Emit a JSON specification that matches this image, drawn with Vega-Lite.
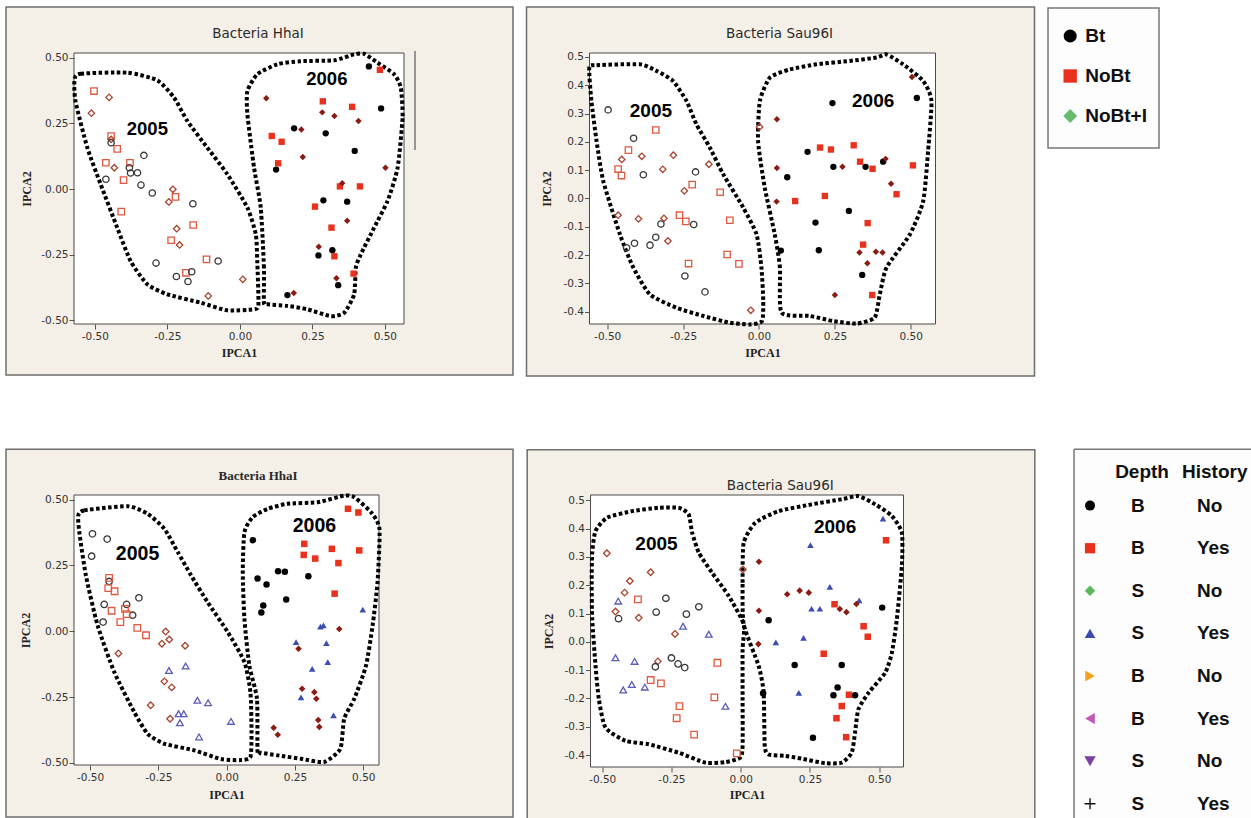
{
"$schema": "https://vega.github.io/schema/vega-lite/v6.json",
"usermeta": {"embedOptions": {"actions": false}},
"background": "white",
"padding": {"left": 5, "top": 6, "right": 0, "bottom": 0},
"config": {
  "view": {"stroke": null},
  "axis": {"domain": false, "grid": false, "ticks": true, "tickSize": 5, "tickColor": "#555", "tickWidth": 1, "labelFont": "DejaVu Sans", "labelFontSize": 10.5, "labelColor": "#333", "titleFont": "Liberation Serif", "titleFontSize": 12, "titleFontWeight": "bold", "titleColor": "#222", "zindex": 1, "labelFlush": false, "labelOverlap": false},
  "axisX": {"labelPadding": 2},
  "axisY": {"labelPadding": 1}
},
"datasets": {
"pts": [
{"p":1,"yr":2005,"t":"NoBt","x":-0.503,"y":0.373},{"p":1,"yr":2005,"t":"NoBt","x":-0.444,"y":0.202},{"p":1,"yr":2005,"t":"NoBt","x":-0.423,"y":0.153},{"p":1,"yr":2005,"t":"NoBt","x":-0.462,"y":0.100},{"p":1,"yr":2005,"t":"NoBt","x":-0.379,"y":0.100},{"p":1,"yr":2005,"t":"NoBt","x":-0.401,"y":0.034},{"p":1,"yr":2005,"t":"NoBt","x":-0.409,"y":-0.086},{"p":1,"yr":2005,"t":"NoBt","x":-0.222,"y":-0.030},{"p":1,"yr":2005,"t":"NoBt","x":-0.161,"y":-0.137},{"p":1,"yr":2005,"t":"NoBt","x":-0.237,"y":-0.195},{"p":1,"yr":2005,"t":"NoBt","x":-0.115,"y":-0.268},{"p":1,"yr":2005,"t":"NoBt","x":-0.186,"y":-0.319},
{"p":1,"yr":2005,"t":"NoBt+I","x":-0.512,"y":0.289},{"p":1,"yr":2005,"t":"NoBt+I","x":-0.451,"y":0.349},{"p":1,"yr":2005,"t":"NoBt+I","x":-0.444,"y":0.189},{"p":1,"yr":2005,"t":"NoBt+I","x":-0.433,"y":0.081},{"p":1,"yr":2005,"t":"NoBt+I","x":-0.231,"y":-0.001},{"p":1,"yr":2005,"t":"NoBt+I","x":-0.245,"y":-0.049},{"p":1,"yr":2005,"t":"NoBt+I","x":-0.218,"y":-0.151},{"p":1,"yr":2005,"t":"NoBt+I","x":-0.208,"y":-0.213},{"p":1,"yr":2005,"t":"NoBt+I","x":-0.109,"y":-0.407},{"p":1,"yr":2005,"t":"NoBt+I","x":0.010,"y":-0.344},
{"p":1,"yr":2005,"t":"Bt","x":-0.444,"y":0.176},{"p":1,"yr":2005,"t":"Bt","x":-0.381,"y":0.081},{"p":1,"yr":2005,"t":"Bt","x":-0.377,"y":0.061},{"p":1,"yr":2005,"t":"Bt","x":-0.353,"y":0.062},{"p":1,"yr":2005,"t":"Bt","x":-0.462,"y":0.037},{"p":1,"yr":2005,"t":"Bt","x":-0.331,"y":0.128},{"p":1,"yr":2005,"t":"Bt","x":-0.341,"y":0.015},{"p":1,"yr":2005,"t":"Bt","x":-0.302,"y":-0.015},{"p":1,"yr":2005,"t":"Bt","x":-0.162,"y":-0.056},{"p":1,"yr":2005,"t":"Bt","x":-0.289,"y":-0.282},{"p":1,"yr":2005,"t":"Bt","x":-0.219,"y":-0.333},{"p":1,"yr":2005,"t":"Bt","x":-0.166,"y":-0.315},{"p":1,"yr":2005,"t":"Bt","x":-0.179,"y":-0.352},{"p":1,"yr":2005,"t":"Bt","x":-0.075,"y":-0.274},
{"p":1,"yr":2006,"t":"Bt","x":0.445,"y":0.467},{"p":1,"yr":2006,"t":"Bt","x":0.487,"y":0.307},{"p":1,"yr":2006,"t":"Bt","x":0.187,"y":0.231},{"p":1,"yr":2006,"t":"Bt","x":0.296,"y":0.212},{"p":1,"yr":2006,"t":"Bt","x":0.396,"y":0.145},{"p":1,"yr":2006,"t":"Bt","x":0.125,"y":0.074},{"p":1,"yr":2006,"t":"Bt","x":0.288,"y":-0.043},{"p":1,"yr":2006,"t":"Bt","x":0.370,"y":-0.048},{"p":1,"yr":2006,"t":"Bt","x":0.271,"y":-0.253},{"p":1,"yr":2006,"t":"Bt","x":0.319,"y":-0.233},{"p":1,"yr":2006,"t":"Bt","x":0.164,"y":-0.404},{"p":1,"yr":2006,"t":"Bt","x":0.339,"y":-0.366},
{"p":1,"yr":2006,"t":"NoBt","x":0.483,"y":0.454},{"p":1,"yr":2006,"t":"NoBt","x":0.286,"y":0.334},{"p":1,"yr":2006,"t":"NoBt","x":0.387,"y":0.313},{"p":1,"yr":2006,"t":"NoBt","x":0.110,"y":0.202},{"p":1,"yr":2006,"t":"NoBt","x":0.144,"y":0.180},{"p":1,"yr":2006,"t":"NoBt","x":0.132,"y":0.098},{"p":1,"yr":2006,"t":"NoBt","x":0.414,"y":0.010},{"p":1,"yr":2006,"t":"NoBt","x":0.345,"y":0.010},{"p":1,"yr":2006,"t":"NoBt","x":0.259,"y":-0.067},{"p":1,"yr":2006,"t":"NoBt","x":0.316,"y":-0.147},{"p":1,"yr":2006,"t":"NoBt","x":0.326,"y":-0.256},{"p":1,"yr":2006,"t":"NoBt","x":0.392,"y":-0.322},
{"p":1,"yr":2006,"t":"NoBt+I","x":0.091,"y":0.346},{"p":1,"yr":2006,"t":"NoBt+I","x":0.284,"y":0.292},{"p":1,"yr":2006,"t":"NoBt+I","x":0.326,"y":0.278},{"p":1,"yr":2006,"t":"NoBt+I","x":0.409,"y":0.259},{"p":1,"yr":2006,"t":"NoBt+I","x":0.212,"y":0.227},{"p":1,"yr":2006,"t":"NoBt+I","x":0.217,"y":0.122},{"p":1,"yr":2006,"t":"NoBt+I","x":0.502,"y":0.081},{"p":1,"yr":2006,"t":"NoBt+I","x":0.353,"y":0.022},{"p":1,"yr":2006,"t":"NoBt+I","x":0.370,"y":-0.121},{"p":1,"yr":2006,"t":"NoBt+I","x":0.272,"y":-0.220},{"p":1,"yr":2006,"t":"NoBt+I","x":0.333,"y":-0.340},{"p":1,"yr":2006,"t":"NoBt+I","x":0.186,"y":-0.396},
{"p":2,"yr":2005,"t":"Bt","x":-0.497,"y":0.313},{"p":2,"yr":2005,"t":"Bt","x":-0.413,"y":0.213},{"p":2,"yr":2005,"t":"Bt","x":-0.381,"y":0.084},{"p":2,"yr":2005,"t":"Bt","x":-0.209,"y":0.094},{"p":2,"yr":2005,"t":"Bt","x":-0.215,"y":-0.092},{"p":2,"yr":2005,"t":"Bt","x":-0.323,"y":-0.090},{"p":2,"yr":2005,"t":"Bt","x":-0.340,"y":-0.137},{"p":2,"yr":2005,"t":"Bt","x":-0.410,"y":-0.158},{"p":2,"yr":2005,"t":"Bt","x":-0.359,"y":-0.165},{"p":2,"yr":2005,"t":"Bt","x":-0.436,"y":-0.174},{"p":2,"yr":2005,"t":"Bt","x":-0.244,"y":-0.274},{"p":2,"yr":2005,"t":"Bt","x":-0.178,"y":-0.330},
{"p":2,"yr":2005,"t":"NoBt","x":-0.340,"y":0.242},{"p":2,"yr":2005,"t":"NoBt","x":-0.430,"y":0.171},{"p":2,"yr":2005,"t":"NoBt","x":-0.464,"y":0.104},{"p":2,"yr":2005,"t":"NoBt","x":-0.453,"y":0.081},{"p":2,"yr":2005,"t":"NoBt","x":-0.220,"y":0.049},{"p":2,"yr":2005,"t":"NoBt","x":-0.128,"y":0.022},{"p":2,"yr":2005,"t":"NoBt","x":-0.262,"y":-0.059},{"p":2,"yr":2005,"t":"NoBt","x":-0.241,"y":-0.081},{"p":2,"yr":2005,"t":"NoBt","x":-0.096,"y":-0.077},{"p":2,"yr":2005,"t":"NoBt","x":-0.105,"y":-0.198},{"p":2,"yr":2005,"t":"NoBt","x":-0.066,"y":-0.231},{"p":2,"yr":2005,"t":"NoBt","x":-0.232,"y":-0.230},
{"p":2,"yr":2005,"t":"NoBt+I","x":-0.452,"y":0.138},{"p":2,"yr":2005,"t":"NoBt+I","x":-0.386,"y":0.149},{"p":2,"yr":2005,"t":"NoBt+I","x":-0.282,"y":0.153},{"p":2,"yr":2005,"t":"NoBt+I","x":-0.317,"y":0.103},{"p":2,"yr":2005,"t":"NoBt+I","x":-0.165,"y":0.121},{"p":2,"yr":2005,"t":"NoBt+I","x":-0.246,"y":0.027},{"p":2,"yr":2005,"t":"NoBt+I","x":-0.464,"y":-0.059},{"p":2,"yr":2005,"t":"NoBt+I","x":-0.397,"y":-0.072},{"p":2,"yr":2005,"t":"NoBt+I","x":-0.313,"y":-0.070},{"p":2,"yr":2005,"t":"NoBt+I","x":-0.300,"y":-0.150},{"p":2,"yr":2005,"t":"NoBt+I","x":-0.027,"y":-0.395},{"p":2,"yr":2005,"t":"NoBt+I","x":0.002,"y":0.253},
{"p":2,"yr":2006,"t":"Bt","x":0.242,"y":0.337},{"p":2,"yr":2006,"t":"Bt","x":0.520,"y":0.355},{"p":2,"yr":2006,"t":"Bt","x":0.160,"y":0.165},{"p":2,"yr":2006,"t":"Bt","x":0.245,"y":0.112},{"p":2,"yr":2006,"t":"Bt","x":0.093,"y":0.075},{"p":2,"yr":2006,"t":"Bt","x":0.351,"y":0.112},{"p":2,"yr":2006,"t":"Bt","x":0.409,"y":0.130},{"p":2,"yr":2006,"t":"Bt","x":0.296,"y":-0.044},{"p":2,"yr":2006,"t":"Bt","x":0.186,"y":-0.085},{"p":2,"yr":2006,"t":"Bt","x":0.072,"y":-0.184},{"p":2,"yr":2006,"t":"Bt","x":0.197,"y":-0.183},{"p":2,"yr":2006,"t":"Bt","x":0.340,"y":-0.270},
{"p":2,"yr":2006,"t":"NoBt","x":0.201,"y":0.180},{"p":2,"yr":2006,"t":"NoBt","x":0.237,"y":0.173},{"p":2,"yr":2006,"t":"NoBt","x":0.312,"y":0.188},{"p":2,"yr":2006,"t":"NoBt","x":0.333,"y":0.130},{"p":2,"yr":2006,"t":"NoBt","x":0.374,"y":0.105},{"p":2,"yr":2006,"t":"NoBt","x":0.507,"y":0.117},{"p":2,"yr":2006,"t":"NoBt","x":0.453,"y":0.015},{"p":2,"yr":2006,"t":"NoBt","x":0.119,"y":-0.009},{"p":2,"yr":2006,"t":"NoBt","x":0.217,"y":0.009},{"p":2,"yr":2006,"t":"NoBt","x":0.358,"y":-0.087},{"p":2,"yr":2006,"t":"NoBt","x":0.343,"y":-0.163},{"p":2,"yr":2006,"t":"NoBt","x":0.373,"y":-0.341},
{"p":2,"yr":2006,"t":"NoBt+I","x":0.504,"y":0.429},{"p":2,"yr":2006,"t":"NoBt+I","x":0.059,"y":0.280},{"p":2,"yr":2006,"t":"NoBt+I","x":0.059,"y":0.108},{"p":2,"yr":2006,"t":"NoBt+I","x":0.275,"y":0.112},{"p":2,"yr":2006,"t":"NoBt+I","x":0.417,"y":0.140},{"p":2,"yr":2006,"t":"NoBt+I","x":0.435,"y":0.052},{"p":2,"yr":2006,"t":"NoBt+I","x":0.058,"y":-0.011},{"p":2,"yr":2006,"t":"NoBt+I","x":0.331,"y":-0.191},{"p":2,"yr":2006,"t":"NoBt+I","x":0.385,"y":-0.188},{"p":2,"yr":2006,"t":"NoBt+I","x":0.407,"y":-0.191},{"p":2,"yr":2006,"t":"NoBt+I","x":0.357,"y":-0.229},{"p":2,"yr":2006,"t":"NoBt+I","x":0.250,"y":-0.341},
{"p":3,"yr":2005,"t":"B-No","x":-0.491,"y":0.370},{"p":3,"yr":2005,"t":"B-No","x":-0.437,"y":0.350},{"p":3,"yr":2005,"t":"B-No","x":-0.494,"y":0.285},{"p":3,"yr":2005,"t":"B-No","x":-0.430,"y":0.189},{"p":3,"yr":2005,"t":"B-No","x":-0.448,"y":0.102},{"p":3,"yr":2005,"t":"B-No","x":-0.366,"y":0.102},{"p":3,"yr":2005,"t":"B-No","x":-0.344,"y":0.061},{"p":3,"yr":2005,"t":"B-No","x":-0.321,"y":0.127},{"p":3,"yr":2005,"t":"B-No","x":-0.452,"y":0.035},
{"p":3,"yr":2005,"t":"B-Yes","x":-0.430,"y":0.203},{"p":3,"yr":2005,"t":"B-Yes","x":-0.433,"y":0.164},{"p":3,"yr":2005,"t":"B-Yes","x":-0.410,"y":0.152},{"p":3,"yr":2005,"t":"B-Yes","x":-0.421,"y":0.078},{"p":3,"yr":2005,"t":"B-Yes","x":-0.372,"y":0.085},{"p":3,"yr":2005,"t":"B-Yes","x":-0.366,"y":0.065},{"p":3,"yr":2005,"t":"B-Yes","x":-0.389,"y":0.035},{"p":3,"yr":2005,"t":"B-Yes","x":-0.327,"y":0.013},{"p":3,"yr":2005,"t":"B-Yes","x":-0.295,"y":-0.015},
{"p":3,"yr":2005,"t":"S-No","x":-0.396,"y":-0.084},{"p":3,"yr":2005,"t":"S-No","x":-0.223,"y":-0.001},{"p":3,"yr":2005,"t":"S-No","x":-0.237,"y":-0.047},{"p":3,"yr":2005,"t":"S-No","x":-0.210,"y":-0.031},{"p":3,"yr":2005,"t":"S-No","x":-0.152,"y":-0.055},{"p":3,"yr":2005,"t":"S-No","x":-0.228,"y":-0.190},{"p":3,"yr":2005,"t":"S-No","x":-0.201,"y":-0.213},{"p":3,"yr":2005,"t":"S-No","x":-0.278,"y":-0.281},{"p":3,"yr":2005,"t":"S-No","x":-0.207,"y":-0.332},
{"p":3,"yr":2005,"t":"S-Yes","x":-0.211,"y":-0.149},{"p":3,"yr":2005,"t":"S-Yes","x":-0.150,"y":-0.132},{"p":3,"yr":2005,"t":"S-Yes","x":-0.107,"y":-0.262},{"p":3,"yr":2005,"t":"S-Yes","x":-0.068,"y":-0.271},{"p":3,"yr":2005,"t":"S-Yes","x":-0.176,"y":-0.313},{"p":3,"yr":2005,"t":"S-Yes","x":-0.157,"y":-0.313},{"p":3,"yr":2005,"t":"S-Yes","x":-0.171,"y":-0.347},{"p":3,"yr":2005,"t":"S-Yes","x":-0.101,"y":-0.401},{"p":3,"yr":2005,"t":"S-Yes","x":0.016,"y":-0.342},
{"p":3,"yr":2006,"t":"B-No","x":0.096,"y":0.346},{"p":3,"yr":2006,"t":"B-No","x":0.113,"y":0.200},{"p":3,"yr":2006,"t":"B-No","x":0.146,"y":0.178},{"p":3,"yr":2006,"t":"B-No","x":0.134,"y":0.098},{"p":3,"yr":2006,"t":"B-No","x":0.127,"y":0.071},{"p":3,"yr":2006,"t":"B-No","x":0.188,"y":0.228},{"p":3,"yr":2006,"t":"B-No","x":0.213,"y":0.226},{"p":3,"yr":2006,"t":"B-No","x":0.218,"y":0.121},{"p":3,"yr":2006,"t":"B-No","x":0.299,"y":0.209},
{"p":3,"yr":2006,"t":"B-Yes","x":0.444,"y":0.465},{"p":3,"yr":2006,"t":"B-Yes","x":0.482,"y":0.451},{"p":3,"yr":2006,"t":"B-Yes","x":0.284,"y":0.332},{"p":3,"yr":2006,"t":"B-Yes","x":0.282,"y":0.290},{"p":3,"yr":2006,"t":"B-Yes","x":0.324,"y":0.276},{"p":3,"yr":2006,"t":"B-Yes","x":0.385,"y":0.313},{"p":3,"yr":2006,"t":"B-Yes","x":0.409,"y":0.259},{"p":3,"yr":2006,"t":"B-Yes","x":0.485,"y":0.307},{"p":3,"yr":2006,"t":"B-Yes","x":0.395,"y":0.143},
{"p":3,"yr":2006,"t":"S-Yes","x":0.498,"y":0.082},{"p":3,"yr":2006,"t":"S-Yes","x":0.343,"y":0.018},{"p":3,"yr":2006,"t":"S-Yes","x":0.354,"y":0.022},{"p":3,"yr":2006,"t":"S-Yes","x":0.254,"y":-0.041},{"p":3,"yr":2006,"t":"S-Yes","x":0.365,"y":-0.045},{"p":3,"yr":2006,"t":"S-Yes","x":0.370,"y":-0.117},{"p":3,"yr":2006,"t":"S-Yes","x":0.313,"y":-0.143},{"p":3,"yr":2006,"t":"S-Yes","x":0.272,"y":-0.251},{"p":3,"yr":2006,"t":"S-Yes","x":0.391,"y":-0.319},
{"p":3,"yr":2006,"t":"S-No","x":0.412,"y":0.009},{"p":3,"yr":2006,"t":"S-No","x":0.263,"y":-0.066},{"p":3,"yr":2006,"t":"S-No","x":0.276,"y":-0.218},{"p":3,"yr":2006,"t":"S-No","x":0.321,"y":-0.231},{"p":3,"yr":2006,"t":"S-No","x":0.328,"y":-0.256},{"p":3,"yr":2006,"t":"S-No","x":0.335,"y":-0.337},{"p":3,"yr":2006,"t":"S-No","x":0.339,"y":-0.363},{"p":3,"yr":2006,"t":"S-No","x":0.172,"y":-0.366},{"p":3,"yr":2006,"t":"S-No","x":0.187,"y":-0.393},
{"p":4,"yr":2005,"t":"S-No","x":-0.483,"y":0.313},{"p":4,"yr":2005,"t":"S-No","x":-0.400,"y":0.215},{"p":4,"yr":2005,"t":"S-No","x":-0.419,"y":0.174},{"p":4,"yr":2005,"t":"S-No","x":-0.325,"y":0.246},{"p":4,"yr":2005,"t":"S-No","x":-0.452,"y":0.107},{"p":4,"yr":2005,"t":"S-No","x":-0.368,"y":0.085},{"p":4,"yr":2005,"t":"S-No","x":-0.237,"y":0.028},{"p":4,"yr":2005,"t":"S-No","x":-0.299,"y":-0.069},{"p":4,"yr":2005,"t":"S-No","x":0.008,"y":0.256},
{"p":4,"yr":2005,"t":"B-No","x":-0.441,"y":0.082},{"p":4,"yr":2005,"t":"B-No","x":-0.270,"y":0.154},{"p":4,"yr":2005,"t":"B-No","x":-0.305,"y":0.105},{"p":4,"yr":2005,"t":"B-No","x":-0.196,"y":0.098},{"p":4,"yr":2005,"t":"B-No","x":-0.151,"y":0.124},{"p":4,"yr":2005,"t":"B-No","x":-0.250,"y":-0.057},{"p":4,"yr":2005,"t":"B-No","x":-0.226,"y":-0.078},{"p":4,"yr":2005,"t":"B-No","x":-0.202,"y":-0.091},{"p":4,"yr":2005,"t":"B-No","x":-0.308,"y":-0.088},
{"p":4,"yr":2005,"t":"S-Yes","x":-0.442,"y":0.144},{"p":4,"yr":2005,"t":"S-Yes","x":-0.208,"y":0.055},{"p":4,"yr":2005,"t":"S-Yes","x":-0.115,"y":0.027},{"p":4,"yr":2005,"t":"S-Yes","x":-0.452,"y":-0.056},{"p":4,"yr":2005,"t":"S-Yes","x":-0.383,"y":-0.069},{"p":4,"yr":2005,"t":"S-Yes","x":-0.424,"y":-0.170},{"p":4,"yr":2005,"t":"S-Yes","x":-0.393,"y":-0.151},{"p":4,"yr":2005,"t":"S-Yes","x":-0.346,"y":-0.160},{"p":4,"yr":2005,"t":"S-Yes","x":-0.055,"y":-0.228},
{"p":4,"yr":2005,"t":"B-Yes","x":-0.371,"y":0.150},{"p":4,"yr":2005,"t":"B-Yes","x":-0.084,"y":-0.074},{"p":4,"yr":2005,"t":"B-Yes","x":-0.325,"y":-0.135},{"p":4,"yr":2005,"t":"B-Yes","x":-0.288,"y":-0.147},{"p":4,"yr":2005,"t":"B-Yes","x":-0.221,"y":-0.227},{"p":4,"yr":2005,"t":"B-Yes","x":-0.231,"y":-0.270},{"p":4,"yr":2005,"t":"B-Yes","x":-0.095,"y":-0.196},{"p":4,"yr":2005,"t":"B-Yes","x":-0.168,"y":-0.328},{"p":4,"yr":2005,"t":"B-Yes","x":-0.014,"y":-0.394},
{"p":4,"yr":2006,"t":"S-Yes","x":0.514,"y":0.436},{"p":4,"yr":2006,"t":"S-Yes","x":0.252,"y":0.342},{"p":4,"yr":2006,"t":"S-Yes","x":0.322,"y":0.194},{"p":4,"yr":2006,"t":"S-Yes","x":0.256,"y":0.117},{"p":4,"yr":2006,"t":"S-Yes","x":0.286,"y":0.117},{"p":4,"yr":2006,"t":"S-Yes","x":0.428,"y":0.147},{"p":4,"yr":2006,"t":"S-Yes","x":0.127,"y":-0.002},{"p":4,"yr":2006,"t":"S-Yes","x":0.227,"y":0.014},{"p":4,"yr":2006,"t":"S-Yes","x":0.210,"y":-0.180},
{"p":4,"yr":2006,"t":"S-No","x":0.066,"y":0.283},{"p":4,"yr":2006,"t":"S-No","x":0.066,"y":0.110},{"p":4,"yr":2006,"t":"S-No","x":0.064,"y":-0.008},{"p":4,"yr":2006,"t":"S-No","x":0.168,"y":0.168},{"p":4,"yr":2006,"t":"S-No","x":0.213,"y":0.181},{"p":4,"yr":2006,"t":"S-No","x":0.246,"y":0.174},{"p":4,"yr":2006,"t":"S-No","x":0.358,"y":0.116},{"p":4,"yr":2006,"t":"S-No","x":0.382,"y":0.105},{"p":4,"yr":2006,"t":"S-No","x":0.418,"y":0.134},
{"p":4,"yr":2006,"t":"B-No","x":0.101,"y":0.076},{"p":4,"yr":2006,"t":"B-No","x":0.511,"y":0.121},{"p":4,"yr":2006,"t":"B-No","x":0.195,"y":-0.082},{"p":4,"yr":2006,"t":"B-No","x":0.365,"y":-0.082},{"p":4,"yr":2006,"t":"B-No","x":0.081,"y":-0.182},{"p":4,"yr":2006,"t":"B-No","x":0.350,"y":-0.161},{"p":4,"yr":2006,"t":"B-No","x":0.335,"y":-0.189},{"p":4,"yr":2006,"t":"B-No","x":0.413,"y":-0.189},{"p":4,"yr":2006,"t":"B-No","x":0.261,"y":-0.339},
{"p":4,"yr":2006,"t":"B-Yes","x":0.525,"y":0.359},{"p":4,"yr":2006,"t":"B-Yes","x":0.339,"y":0.133},{"p":4,"yr":2006,"t":"B-Yes","x":0.444,"y":0.055},{"p":4,"yr":2006,"t":"B-Yes","x":0.459,"y":0.018},{"p":4,"yr":2006,"t":"B-Yes","x":0.300,"y":-0.042},{"p":4,"yr":2006,"t":"B-Yes","x":0.391,"y":-0.187},{"p":4,"yr":2006,"t":"B-Yes","x":0.365,"y":-0.227},{"p":4,"yr":2006,"t":"B-Yes","x":0.346,"y":-0.270},{"p":4,"yr":2006,"t":"B-Yes","x":0.381,"y":-0.337}
],
"ol": [
{"p":1,"g":"a","i":1,"x":-0.570,"y":0.418},{"p":1,"g":"a","i":2,"x":-0.549,"y":0.439},{"p":1,"g":"a","i":3,"x":-0.388,"y":0.443},{"p":1,"g":"a","i":4,"x":-0.285,"y":0.414},{"p":1,"g":"a","i":5,"x":-0.227,"y":0.348},{"p":1,"g":"a","i":6,"x":-0.181,"y":0.259},{"p":1,"g":"a","i":7,"x":-0.112,"y":0.157},{"p":1,"g":"a","i":8,"x":-0.043,"y":0.056},{"p":1,"g":"a","i":9,"x":0.026,"y":-0.071},{"p":1,"g":"a","i":10,"x":0.055,"y":-0.173},{"p":1,"g":"a","i":11,"x":0.060,"y":-0.274},{"p":1,"g":"a","i":12,"x":0.064,"y":-0.439},{"p":1,"g":"a","i":13,"x":0.049,"y":-0.458},{"p":1,"g":"a","i":14,"x":-0.043,"y":-0.462},{"p":1,"g":"a","i":15,"x":-0.135,"y":-0.433},{"p":1,"g":"a","i":16,"x":-0.250,"y":-0.401},{"p":1,"g":"a","i":17,"x":-0.319,"y":-0.363},{"p":1,"g":"a","i":18,"x":-0.377,"y":-0.274},{"p":1,"g":"a","i":19,"x":-0.423,"y":-0.147},{"p":1,"g":"a","i":20,"x":-0.480,"y":0.018},{"p":1,"g":"a","i":21,"x":-0.526,"y":0.157},{"p":1,"g":"a","i":22,"x":-0.567,"y":0.335},
{"p":1,"g":"b","i":1,"x":0.083,"y":-0.433},{"p":1,"g":"b","i":2,"x":0.083,"y":-0.299},{"p":1,"g":"b","i":3,"x":0.072,"y":-0.071},{"p":1,"g":"b","i":4,"x":0.049,"y":0.081},{"p":1,"g":"b","i":5,"x":0.026,"y":0.284},{"p":1,"g":"b","i":6,"x":0.026,"y":0.373},{"p":1,"g":"b","i":7,"x":0.060,"y":0.437},{"p":1,"g":"b","i":8,"x":0.129,"y":0.475},{"p":1,"g":"b","i":9,"x":0.210,"y":0.487},{"p":1,"g":"b","i":10,"x":0.325,"y":0.490},{"p":1,"g":"b","i":11,"x":0.394,"y":0.513},{"p":1,"g":"b","i":12,"x":0.429,"y":0.515},{"p":1,"g":"b","i":13,"x":0.475,"y":0.481},{"p":1,"g":"b","i":14,"x":0.532,"y":0.437},{"p":1,"g":"b","i":15,"x":0.555,"y":0.386},{"p":1,"g":"b","i":16,"x":0.561,"y":0.272},{"p":1,"g":"b","i":17,"x":0.544,"y":0.081},{"p":1,"g":"b","i":18,"x":0.509,"y":-0.046},{"p":1,"g":"b","i":19,"x":0.463,"y":-0.147},{"p":1,"g":"b","i":20,"x":0.417,"y":-0.249},{"p":1,"g":"b","i":21,"x":0.400,"y":-0.299},{"p":1,"g":"b","i":22,"x":0.394,"y":-0.401},{"p":1,"g":"b","i":23,"x":0.360,"y":-0.471},{"p":1,"g":"b","i":24,"x":0.314,"y":-0.484},{"p":1,"g":"b","i":25,"x":0.233,"y":-0.458},{"p":1,"g":"b","i":26,"x":0.164,"y":-0.445},{"p":1,"g":"b","i":27,"x":0.095,"y":-0.439},
{"p":2,"g":"a","i":1,"x":-0.559,"y":0.462},{"p":2,"g":"a","i":2,"x":-0.535,"y":0.471},{"p":2,"g":"a","i":3,"x":-0.392,"y":0.474},{"p":2,"g":"a","i":4,"x":-0.338,"y":0.451},{"p":2,"g":"a","i":5,"x":-0.283,"y":0.415},{"p":2,"g":"a","i":6,"x":-0.239,"y":0.345},{"p":2,"g":"a","i":7,"x":-0.206,"y":0.262},{"p":2,"g":"a","i":8,"x":-0.162,"y":0.180},{"p":2,"g":"a","i":9,"x":-0.118,"y":0.086},{"p":2,"g":"a","i":10,"x":-0.052,"y":-0.032},{"p":2,"g":"a","i":11,"x":-0.008,"y":-0.127},{"p":2,"g":"a","i":12,"x":0.008,"y":-0.244},{"p":2,"g":"a","i":13,"x":0.014,"y":-0.362},{"p":2,"g":"a","i":14,"x":0.010,"y":-0.433},{"p":2,"g":"a","i":15,"x":-0.030,"y":-0.445},{"p":2,"g":"a","i":16,"x":-0.096,"y":-0.439},{"p":2,"g":"a","i":17,"x":-0.184,"y":-0.415},{"p":2,"g":"a","i":18,"x":-0.272,"y":-0.386},{"p":2,"g":"a","i":19,"x":-0.359,"y":-0.339},{"p":2,"g":"a","i":20,"x":-0.414,"y":-0.244},{"p":2,"g":"a","i":21,"x":-0.458,"y":-0.127},{"p":2,"g":"a","i":22,"x":-0.513,"y":0.062},{"p":2,"g":"a","i":23,"x":-0.535,"y":0.203},{"p":2,"g":"a","i":24,"x":-0.552,"y":0.345},
{"p":2,"g":"b","i":1,"x":0.074,"y":-0.403},{"p":2,"g":"b","i":2,"x":0.069,"y":-0.244},{"p":2,"g":"b","i":3,"x":0.052,"y":-0.127},{"p":2,"g":"b","i":4,"x":0.019,"y":0.038},{"p":2,"g":"b","i":5,"x":-0.003,"y":0.203},{"p":2,"g":"b","i":6,"x":0.003,"y":0.345},{"p":2,"g":"b","i":7,"x":0.036,"y":0.427},{"p":2,"g":"b","i":8,"x":0.102,"y":0.456},{"p":2,"g":"b","i":9,"x":0.189,"y":0.474},{"p":2,"g":"b","i":10,"x":0.299,"y":0.486},{"p":2,"g":"b","i":11,"x":0.387,"y":0.498},{"p":2,"g":"b","i":12,"x":0.420,"y":0.509},{"p":2,"g":"b","i":13,"x":0.475,"y":0.474},{"p":2,"g":"b","i":14,"x":0.541,"y":0.415},{"p":2,"g":"b","i":15,"x":0.568,"y":0.345},{"p":2,"g":"b","i":16,"x":0.557,"y":0.168},{"p":2,"g":"b","i":17,"x":0.541,"y":-0.009},{"p":2,"g":"b","i":18,"x":0.497,"y":-0.127},{"p":2,"g":"b","i":19,"x":0.420,"y":-0.244},{"p":2,"g":"b","i":20,"x":0.398,"y":-0.339},{"p":2,"g":"b","i":21,"x":0.381,"y":-0.421},{"p":2,"g":"b","i":22,"x":0.321,"y":-0.442},{"p":2,"g":"b","i":23,"x":0.244,"y":-0.433},{"p":2,"g":"b","i":24,"x":0.167,"y":-0.415},
{"p":3,"g":"a","i":1,"x":-0.543,"y":0.439},{"p":3,"g":"a","i":2,"x":-0.521,"y":0.459},{"p":3,"g":"a","i":3,"x":-0.362,"y":0.475},{"p":3,"g":"a","i":4,"x":-0.289,"y":0.446},{"p":3,"g":"a","i":5,"x":-0.228,"y":0.389},{"p":3,"g":"a","i":6,"x":-0.179,"y":0.301},{"p":3,"g":"a","i":7,"x":-0.130,"y":0.212},{"p":3,"g":"a","i":8,"x":-0.070,"y":0.111},{"p":3,"g":"a","i":9,"x":0.004,"y":-0.003},{"p":3,"g":"a","i":10,"x":0.065,"y":-0.117},{"p":3,"g":"a","i":11,"x":0.087,"y":-0.231},{"p":3,"g":"a","i":12,"x":0.091,"y":-0.382},{"p":3,"g":"a","i":13,"x":0.087,"y":-0.477},{"p":3,"g":"a","i":14,"x":0.052,"y":-0.489},{"p":3,"g":"a","i":15,"x":-0.021,"y":-0.485},{"p":3,"g":"a","i":16,"x":-0.118,"y":-0.452},{"p":3,"g":"a","i":17,"x":-0.228,"y":-0.427},{"p":3,"g":"a","i":18,"x":-0.289,"y":-0.389},{"p":3,"g":"a","i":19,"x":-0.338,"y":-0.307},{"p":3,"g":"a","i":20,"x":-0.411,"y":-0.155},{"p":3,"g":"a","i":21,"x":-0.472,"y":0.022},{"p":3,"g":"a","i":22,"x":-0.515,"y":0.212},{"p":3,"g":"a","i":23,"x":-0.539,"y":0.376},
{"p":3,"g":"b","i":1,"x":0.113,"y":-0.458},{"p":3,"g":"b","i":2,"x":0.111,"y":-0.256},{"p":3,"g":"b","i":3,"x":0.083,"y":-0.130},{"p":3,"g":"b","i":4,"x":0.065,"y":0.047},{"p":3,"g":"b","i":5,"x":0.059,"y":0.224},{"p":3,"g":"b","i":6,"x":0.065,"y":0.376},{"p":3,"g":"b","i":7,"x":0.095,"y":0.433},{"p":3,"g":"b","i":8,"x":0.150,"y":0.465},{"p":3,"g":"b","i":9,"x":0.223,"y":0.484},{"p":3,"g":"b","i":10,"x":0.333,"y":0.490},{"p":3,"g":"b","i":11,"x":0.430,"y":0.515},{"p":3,"g":"b","i":12,"x":0.467,"y":0.509},{"p":3,"g":"b","i":13,"x":0.528,"y":0.452},{"p":3,"g":"b","i":14,"x":0.559,"y":0.389},{"p":3,"g":"b","i":15,"x":0.552,"y":0.186},{"p":3,"g":"b","i":16,"x":0.534,"y":0.022},{"p":3,"g":"b","i":17,"x":0.510,"y":-0.130},{"p":3,"g":"b","i":18,"x":0.467,"y":-0.256},{"p":3,"g":"b","i":19,"x":0.430,"y":-0.332},{"p":3,"g":"b","i":20,"x":0.416,"y":-0.446},{"p":3,"g":"b","i":21,"x":0.357,"y":-0.496},{"p":3,"g":"b","i":22,"x":0.272,"y":-0.484},{"p":3,"g":"b","i":23,"x":0.187,"y":-0.471},{"p":3,"g":"b","i":24,"x":0.126,"y":-0.461},
{"p":4,"g":"a","i":1,"x":-0.536,"y":0.315},{"p":4,"g":"a","i":2,"x":-0.524,"y":0.392},{"p":4,"g":"a","i":3,"x":-0.482,"y":0.439},{"p":4,"g":"a","i":4,"x":-0.392,"y":0.462},{"p":4,"g":"a","i":5,"x":-0.296,"y":0.474},{"p":4,"g":"a","i":6,"x":-0.224,"y":0.474},{"p":4,"g":"a","i":7,"x":-0.188,"y":0.451},{"p":4,"g":"a","i":8,"x":-0.175,"y":0.386},{"p":4,"g":"a","i":9,"x":-0.151,"y":0.315},{"p":4,"g":"a","i":10,"x":-0.103,"y":0.244},{"p":4,"g":"a","i":11,"x":-0.043,"y":0.162},{"p":4,"g":"a","i":12,"x":0.011,"y":0.062},{"p":4,"g":"a","i":13,"x":0.007,"y":-0.027},{"p":4,"g":"a","i":14,"x":0.007,"y":-0.203},{"p":4,"g":"a","i":15,"x":0.007,"y":-0.368},{"p":4,"g":"a","i":16,"x":-0.001,"y":-0.409},{"p":4,"g":"a","i":17,"x":-0.055,"y":-0.425},{"p":4,"g":"a","i":18,"x":-0.127,"y":-0.427},{"p":4,"g":"a","i":19,"x":-0.224,"y":-0.392},{"p":4,"g":"a","i":20,"x":-0.332,"y":-0.362},{"p":4,"g":"a","i":21,"x":-0.416,"y":-0.350},{"p":4,"g":"a","i":22,"x":-0.488,"y":-0.303},{"p":4,"g":"a","i":23,"x":-0.512,"y":-0.203},{"p":4,"g":"a","i":24,"x":-0.524,"y":-0.085},{"p":4,"g":"a","i":25,"x":-0.536,"y":0.080},{"p":4,"g":"a","i":26,"x":-0.538,"y":0.209},
{"p":4,"g":"b","i":1,"x":0.011,"y":0.062},{"p":4,"g":"b","i":2,"x":0.007,"y":0.209},{"p":4,"g":"b","i":3,"x":0.011,"y":0.350},{"p":4,"g":"b","i":4,"x":0.053,"y":0.421},{"p":4,"g":"b","i":5,"x":0.137,"y":0.462},{"p":4,"g":"b","i":6,"x":0.257,"y":0.486},{"p":4,"g":"b","i":7,"x":0.365,"y":0.504},{"p":4,"g":"b","i":8,"x":0.425,"y":0.515},{"p":4,"g":"b","i":9,"x":0.486,"y":0.486},{"p":4,"g":"b","i":10,"x":0.546,"y":0.445},{"p":4,"g":"b","i":11,"x":0.582,"y":0.386},{"p":4,"g":"b","i":12,"x":0.582,"y":0.268},{"p":4,"g":"b","i":13,"x":0.564,"y":0.080},{"p":4,"g":"b","i":14,"x":0.546,"y":-0.038},{"p":4,"g":"b","i":15,"x":0.522,"y":-0.109},{"p":4,"g":"b","i":16,"x":0.462,"y":-0.180},{"p":4,"g":"b","i":17,"x":0.425,"y":-0.239},{"p":4,"g":"b","i":18,"x":0.413,"y":-0.321},{"p":4,"g":"b","i":19,"x":0.401,"y":-0.392},{"p":4,"g":"b","i":20,"x":0.365,"y":-0.427},{"p":4,"g":"b","i":21,"x":0.305,"y":-0.429},{"p":4,"g":"b","i":22,"x":0.221,"y":-0.413},{"p":4,"g":"b","i":23,"x":0.161,"y":-0.403},{"p":4,"g":"b","i":24,"x":0.101,"y":-0.398},{"p":4,"g":"b","i":25,"x":0.087,"y":-0.368},{"p":4,"g":"b","i":26,"x":0.083,"y":-0.180},{"p":4,"g":"b","i":27,"x":0.065,"y":-0.085}
],
"lb": [
{"p":1,"s":"2005","x":-0.319,"y":0.227},{"p":1,"s":"2006","x":0.300,"y":0.418},
{"p":2,"s":"2005","x":-0.356,"y":0.309},{"p":2,"s":"2006","x":0.376,"y":0.345},
{"p":3,"s":"2005","x":-0.326,"y":0.294},{"p":3,"s":"2006","x":0.321,"y":0.399},
{"p":4,"s":"2005","x":-0.304,"y":0.345},{"p":4,"s":"2006","x":0.341,"y":0.407}
],
"ttl": [
{"p":1,"s":"Bacteria HhaI","x":0.0625,"y":0.590},
{"p":2,"s":"Bacteria Sau96I","x":0.0675,"y":0.5812},
{"p":3,"s":"Bacteria HhaI","x":0.1148,"y":0.5883},
{"p":4,"s":"Bacteria Sau96I","x":0.1429,"y":0.552}
],
"lg1": [{"k":"Bt","r":0},{"k":"NoBt","r":1},{"k":"NoBt+I","r":2}],
"lg2": [{"r":1,"d":"B","h":"No"},{"r":2,"d":"B","h":"Yes"},{"r":3,"d":"S","h":"No"},{"r":4,"d":"S","h":"Yes"},{"r":5,"d":"B","h":"No"},{"r":6,"d":"B","h":"Yes"},{"r":7,"d":"S","h":"No"},{"r":8,"d":"S","h":"Yes"}]
},
"resolve": {"scale": {"shape": "independent", "fill": "independent", "stroke": "independent", "size": "independent"}},
"spacing": 71,
"vconcat": [
{
"spacing": 11.5,
"resolve": {"scale": {"shape": "independent", "fill": "independent", "stroke": "independent", "size": "independent"}},
"hconcat": [
{
"width": 330, "height": 271,
"layer": [
 {"data": {"values": [{"a": 1}]}, "mark": {"type": "rect", "fill": "#f4f0e7", "stroke": "#6e6e6e", "strokeWidth": 1.5}, "encoding": {"x": {"datum": -0.8065, "type": "quantitative", "scale": {"domain": [-0.572, 0.566], "nice": false, "zero": false}, "axis": {"title": "IPCA1", "zindex": 2, "labelOverlap": false, "values": [-0.5, -0.25, 0, 0.25, 0.5], "labelExpr": "replace(format(datum.value,'.2f'),'\u2212','-')", "titlePadding": 6}}, "x2": {"datum": 0.9419}, "y": {"datum": 0.6932, "type": "quantitative", "scale": {"domain": [-0.514, 0.518], "nice": false, "zero": false}, "axis": {"title": "IPCA2", "zindex": 2, "labelOverlap": false, "values": [-0.5, -0.25, 0, 0.25, 0.5], "labelExpr": "replace(format(datum.value,'.2f'),'\u2212','-')", "titlePadding": 7}}, "y2": {"datum": -0.7082}}},
 {"data": {"values": [{"a": 1}]}, "mark": {"type": "rect", "fill": "#ffffff", "stroke": "#4a4a4a", "strokeWidth": 1}, "encoding": {"x": {"datum": -0.572}, "x2": {"datum": 0.566}, "y": {"datum": 0.518}, "y2": {"datum": -0.514}}},
 {"data": {"values": [{"a": 1}]}, "mark": {"type": "rule", "stroke": "#777", "strokeWidth": 1.5}, "encoding": {"x": {"datum": 0.604}, "y": {"datum": 0.526}, "y2": {"datum": 0.149}}},
 {"data": {"name": "ttl"}, "transform": [{"filter": "datum.p==1"}], "mark": {"type": "text", "font": "DejaVu Sans", "fontSize": 13.5, "color": "#2a2a2a", "align": "center", "baseline": "middle"}, "encoding": {"x": {"field": "x", "type": "quantitative"}, "y": {"field": "y", "type": "quantitative"}, "text": {"field": "s"}}},
 {"data": {"name": "ol"}, "transform": [{"filter": "datum.p==1"}], "mark": {"type": "line", "interpolate": "cardinal-closed", "tension": 0.4, "color": "#000", "strokeWidth": 4, "strokeDash": [3.5, 2.5], "strokeCap": "butt"}, "encoding": {"x": {"field": "x", "type": "quantitative"}, "y": {"field": "y", "type": "quantitative"}, "detail": {"field": "g"}, "order": {"field": "i"}}},
 {"data": {"name": "pts"}, "transform": [{"filter": "datum.p==1 && datum.yr==2005"}], "mark": {"type": "point", "filled": false, "opacity": 1, "strokeWidth": 1.3},
  "encoding": {"x": {"field": "x", "type": "quantitative"}, "y": {"field": "y", "type": "quantitative"},
   "shape": {"field": "t", "type": "nominal", "scale": {"domain": ["Bt","NoBt","NoBt+I","B-No","B-Yes","S-No","S-Yes"], "range": ["circle","square","diamond","circle","square","diamond","triangle-up"]}, "legend": null},
   "stroke": {"field": "t", "type": "nominal", "scale": {"domain": ["Bt","NoBt","NoBt+I","B-No","B-Yes","S-No","S-Yes"], "range": ["#383838","#e0583e","#a8432e","#383838","#e0583e","#a8432e","#5a5cba"]}, "legend": null},
   "size": {"field": "t", "type": "nominal", "scale": {"domain": ["Bt","NoBt","NoBt+I","B-No","B-Yes","S-No","S-Yes"], "range": [40, 44, 75, 40, 44, 75, 55]}, "legend": null}}},
 {"data": {"name": "pts"}, "transform": [{"filter": "datum.p==1 && datum.yr==2006"}], "mark": {"type": "point", "filled": true, "opacity": 1},
  "encoding": {"x": {"field": "x", "type": "quantitative"}, "y": {"field": "y", "type": "quantitative"}, "shape": {"field": "t", "type": "nominal", "legend": null},
   "fill": {"field": "t", "type": "nominal", "scale": {"domain": ["Bt","NoBt","NoBt+I","B-No","B-Yes","S-No","S-Yes"], "range": ["#000000","#e8321e","#8a1b12","#000000","#e8321e","#8a1b12","#3a4db0"]}, "legend": null},
   "size": {"field": "t", "type": "nominal", "legend": null}}},
 {"data": {"name": "lb"}, "transform": [{"filter": "datum.p==1"}], "mark": {"type": "text", "font": "Liberation Sans", "fontWeight": "bold", "fontSize": 18.5, "color": "#000", "align": "center", "baseline": "middle"}, "encoding": {"x": {"field": "x", "type": "quantitative"}, "y": {"field": "y", "type": "quantitative"}, "text": {"field": "s"}}}
]
},
{
"width": 346, "height": 271,
"layer": [
 {"data": {"values": [{"a": 1}]}, "mark": {"type": "rect", "fill": "#f4f0e7", "stroke": "#6e6e6e", "strokeWidth": 1.5}, "encoding": {"x": {"datum": -0.7658, "type": "quantitative", "scale": {"domain": [-0.5583, 0.5814], "nice": false, "zero": false}, "axis": {"title": "IPCA1", "zindex": 2, "labelOverlap": false, "values": [-0.5, -0.25, 0, 0.25, 0.5], "labelExpr": "replace(format(datum.value,'.2f'),'\u2212','-')", "titlePadding": 6}}, "x2": {"datum": 0.9075}, "y": {"datum": 0.6766, "type": "quantitative", "scale": {"domain": [-0.4435, 0.5141], "nice": false, "zero": false}, "axis": {"title": "IPCA2", "zindex": 2, "labelOverlap": false, "tickCount": 12, "values": [-0.4, -0.3, -0.2, -0.1, 0, 0.1, 0.2, 0.3, 0.4, 0.5], "labelExpr": "replace(format(datum.value,'.1f'),'\u2212','-')", "titlePadding": 10}}, "y2": {"datum": -0.6272}}},
 {"data": {"values": [{"a": 1}]}, "mark": {"type": "rect", "fill": "#ffffff", "stroke": "#4a4a4a", "strokeWidth": 1}, "encoding": {"x": {"datum": -0.5583}, "x2": {"datum": 0.5814}, "y": {"datum": 0.5141}, "y2": {"datum": -0.4435}}},
 {"data": {"name": "ttl"}, "transform": [{"filter": "datum.p==2"}], "mark": {"type": "text", "font": "DejaVu Sans", "fontSize": 13.5, "color": "#2a2a2a", "align": "center", "baseline": "middle"}, "encoding": {"x": {"field": "x", "type": "quantitative"}, "y": {"field": "y", "type": "quantitative"}, "text": {"field": "s"}}},
 {"data": {"name": "ol"}, "transform": [{"filter": "datum.p==2"}], "mark": {"type": "line", "interpolate": "cardinal-closed", "tension": 0.4, "color": "#000", "strokeWidth": 4, "strokeDash": [3.5, 2.5], "strokeCap": "butt"}, "encoding": {"x": {"field": "x", "type": "quantitative"}, "y": {"field": "y", "type": "quantitative"}, "detail": {"field": "g"}, "order": {"field": "i"}}},
 {"data": {"name": "pts"}, "transform": [{"filter": "datum.p==2 && datum.yr==2005"}], "mark": {"type": "point", "filled": false, "opacity": 1, "strokeWidth": 1.3},
  "encoding": {"x": {"field": "x", "type": "quantitative"}, "y": {"field": "y", "type": "quantitative"},
   "shape": {"field": "t", "type": "nominal", "scale": {"domain": ["Bt","NoBt","NoBt+I","B-No","B-Yes","S-No","S-Yes"], "range": ["circle","square","diamond","circle","square","diamond","triangle-up"]}, "legend": null},
   "stroke": {"field": "t", "type": "nominal", "scale": {"domain": ["Bt","NoBt","NoBt+I","B-No","B-Yes","S-No","S-Yes"], "range": ["#383838","#e0583e","#a8432e","#383838","#e0583e","#a8432e","#5a5cba"]}, "legend": null},
   "size": {"field": "t", "type": "nominal", "scale": {"domain": ["Bt","NoBt","NoBt+I","B-No","B-Yes","S-No","S-Yes"], "range": [40, 44, 75, 40, 44, 75, 55]}, "legend": null}}},
 {"data": {"name": "pts"}, "transform": [{"filter": "datum.p==2 && datum.yr==2006"}], "mark": {"type": "point", "filled": true, "opacity": 1},
  "encoding": {"x": {"field": "x", "type": "quantitative"}, "y": {"field": "y", "type": "quantitative"}, "shape": {"field": "t", "type": "nominal", "legend": null},
   "fill": {"field": "t", "type": "nominal", "scale": {"domain": ["Bt","NoBt","NoBt+I","B-No","B-Yes","S-No","S-Yes"], "range": ["#000000","#e8321e","#8a1b12","#000000","#e8321e","#8a1b12","#3a4db0"]}, "legend": null},
   "size": {"field": "t", "type": "nominal", "legend": null}}},
 {"data": {"name": "lb"}, "transform": [{"filter": "datum.p==2"}], "mark": {"type": "text", "font": "Liberation Sans", "fontWeight": "bold", "fontSize": 19, "color": "#000", "align": "center", "baseline": "middle"}, "encoding": {"x": {"field": "x", "type": "quantitative"}, "y": {"field": "y", "type": "quantitative"}, "text": {"field": "s"}}}
]
},
{
"width": 111, "height": 95,
"layer": [
 {"data": {"values": [{"a": 1}]}, "mark": {"type": "rect", "fill": "#fdfdfd", "stroke": "#777", "strokeWidth": 1.5}, "encoding": {"x": {"datum": 0, "type": "quantitative", "scale": {"domain": [0, 1], "nice": false, "zero": false}, "axis": null}, "x2": {"datum": 1}, "y": {"datum": -0.7, "type": "quantitative", "scale": {"domain": [0.425, 2.8], "reverse": true, "nice": false, "zero": false}, "axis": null}, "y2": {"datum": 2.8}}},
 {"data": {"name": "lg1"}, "mark": {"type": "point", "filled": true, "opacity": 1},
  "encoding": {"x": {"datum": 0.2}, "y": {"field": "r", "type": "quantitative"},
   "shape": {"field": "k", "type": "nominal", "scale": {"domain": ["Bt","NoBt","NoBt+I"], "range": ["circle","square","diamond"]}, "legend": null},
   "fill": {"field": "k", "type": "nominal", "scale": {"domain": ["Bt","NoBt","NoBt+I"], "range": ["#000000","#e8321e","#66bb6a"]}, "legend": null},
   "size": {"field": "k", "type": "nominal", "scale": {"domain": ["Bt","NoBt","NoBt+I"], "range": [170, 190, 330]}, "legend": null}}},
 {"data": {"name": "lg1"}, "mark": {"type": "text", "align": "left", "baseline": "middle", "font": "Liberation Sans", "fontWeight": "bold", "fontSize": 19, "color": "#111"},
  "encoding": {"x": {"datum": 0.335}, "y": {"field": "r", "type": "quantitative"}, "text": {"field": "k"}}}
]
}
]
},
{
"spacing": 11.5,
"resolve": {"scale": {"shape": "independent", "fill": "independent", "stroke": "independent", "size": "independent"}},
"hconcat": [
{
"width": 305, "height": 270,
"layer": [
 {"data": {"values": [{"a": 1}]}, "mark": {"type": "rect", "fill": "#f4f0e7", "stroke": "#6e6e6e", "strokeWidth": 1.5}, "encoding": {"x": {"datum": -0.8073, "type": "quantitative", "scale": {"domain": [-0.5585, 0.5574], "nice": false, "zero": false}, "axis": {"title": "IPCA1", "zindex": 2, "labelOverlap": false, "values": [-0.5, -0.25, 0, 0.25, 0.5], "labelExpr": "replace(format(datum.value,'.2f'),'\u2212','-')", "titlePadding": 7}}, "x2": {"datum": 1.0477}, "y": {"datum": 0.6907, "type": "quantitative", "scale": {"domain": [-0.5076, 0.5174], "nice": false, "zero": false}, "axis": {"title": "IPCA2", "zindex": 2, "labelOverlap": false, "values": [-0.5, -0.25, 0, 0.25, 0.5], "labelExpr": "replace(format(datum.value,'.2f'),'\u2212','-')", "titlePadding": 8}}, "y2": {"datum": -0.7048}}},
 {"data": {"values": [{"a": 1}]}, "mark": {"type": "rect", "fill": "#ffffff", "stroke": "#4a4a4a", "strokeWidth": 1}, "encoding": {"x": {"datum": -0.5585}, "x2": {"datum": 0.5574}, "y": {"datum": 0.5174}, "y2": {"datum": -0.5076}}},
 {"data": {"name": "ttl"}, "transform": [{"filter": "datum.p==3"}], "mark": {"type": "text", "font": "Liberation Serif", "fontWeight": "bold", "fontSize": 13, "color": "#2a2a2a", "align": "center", "baseline": "middle"}, "encoding": {"x": {"field": "x", "type": "quantitative"}, "y": {"field": "y", "type": "quantitative"}, "text": {"field": "s"}}},
 {"data": {"name": "ol"}, "transform": [{"filter": "datum.p==3"}], "mark": {"type": "line", "interpolate": "cardinal-closed", "tension": 0.4, "color": "#000", "strokeWidth": 4, "strokeDash": [3.5, 2.5], "strokeCap": "butt"}, "encoding": {"x": {"field": "x", "type": "quantitative"}, "y": {"field": "y", "type": "quantitative"}, "detail": {"field": "g"}, "order": {"field": "i"}}},
 {"data": {"name": "pts"}, "transform": [{"filter": "datum.p==3 && datum.yr==2005"}], "mark": {"type": "point", "filled": false, "opacity": 1, "strokeWidth": 1.3},
  "encoding": {"x": {"field": "x", "type": "quantitative"}, "y": {"field": "y", "type": "quantitative"},
   "shape": {"field": "t", "type": "nominal", "scale": {"domain": ["Bt","NoBt","NoBt+I","B-No","B-Yes","S-No","S-Yes"], "range": ["circle","square","diamond","circle","square","diamond","triangle-up"]}, "legend": null},
   "stroke": {"field": "t", "type": "nominal", "scale": {"domain": ["Bt","NoBt","NoBt+I","B-No","B-Yes","S-No","S-Yes"], "range": ["#383838","#e0583e","#a8432e","#383838","#e0583e","#a8432e","#5a5cba"]}, "legend": null},
   "size": {"field": "t", "type": "nominal", "scale": {"domain": ["Bt","NoBt","NoBt+I","B-No","B-Yes","S-No","S-Yes"], "range": [40, 44, 75, 40, 44, 75, 55]}, "legend": null}}},
 {"data": {"name": "pts"}, "transform": [{"filter": "datum.p==3 && datum.yr==2006"}], "mark": {"type": "point", "filled": true, "opacity": 1},
  "encoding": {"x": {"field": "x", "type": "quantitative"}, "y": {"field": "y", "type": "quantitative"}, "shape": {"field": "t", "type": "nominal", "legend": null},
   "fill": {"field": "t", "type": "nominal", "scale": {"domain": ["Bt","NoBt","NoBt+I","B-No","B-Yes","S-No","S-Yes"], "range": ["#000000","#e8321e","#8a1b12","#000000","#e8321e","#8a1b12","#3a4db0"]}, "legend": null},
   "size": {"field": "t", "type": "nominal", "legend": null}}},
 {"data": {"name": "lb"}, "transform": [{"filter": "datum.p==3"}], "mark": {"type": "text", "font": "Liberation Sans", "fontWeight": "bold", "fontSize": 19.5, "color": "#000", "align": "center", "baseline": "middle"}, "encoding": {"x": {"field": "x", "type": "quantitative"}, "y": {"field": "y", "type": "quantitative"}, "text": {"field": "s"}}}
]
},
{
"width": 313, "height": 272,
"layer": [
 {"data": {"values": [{"a": 1}]}, "mark": {"type": "rect", "fill": "#f4f0e7", "stroke": "#6e6e6e", "strokeWidth": 1.5}, "encoding": {"x": {"datum": -0.7708, "type": "quantitative", "scale": {"domain": [-0.5422, 0.588], "nice": false, "zero": false}, "axis": {"title": "IPCA1", "zindex": 2, "labelOverlap": false, "values": [-0.5, -0.25, 0, 0.25, 0.5], "labelExpr": "replace(format(datum.value,'.2f'),'\u2212','-')", "titlePadding": 5}}, "x2": {"datum": 1.0622}, "y": {"datum": 0.6792, "type": "quantitative", "scale": {"domain": [-0.4424, 0.5191], "nice": false, "zero": false}, "axis": {"title": "IPCA2", "zindex": 2, "labelOverlap": false, "tickCount": 12, "values": [-0.4, -0.3, -0.2, -0.1, 0, 0.1, 0.2, 0.3, 0.4, 0.5], "labelExpr": "replace(format(datum.value,'.1f'),'\u2212','-')", "titlePadding": 9}}, "y2": {"datum": -0.6252}}},
 {"data": {"values": [{"a": 1}]}, "mark": {"type": "rect", "fill": "#ffffff", "stroke": "#4a4a4a", "strokeWidth": 1}, "encoding": {"x": {"datum": -0.5422}, "x2": {"datum": 0.588}, "y": {"datum": 0.5191}, "y2": {"datum": -0.4424}}},
 {"data": {"name": "ttl"}, "transform": [{"filter": "datum.p==4"}], "mark": {"type": "text", "font": "DejaVu Sans", "fontSize": 13.5, "color": "#2a2a2a", "align": "center", "baseline": "middle"}, "encoding": {"x": {"field": "x", "type": "quantitative"}, "y": {"field": "y", "type": "quantitative"}, "text": {"field": "s"}}},
 {"data": {"name": "ol"}, "transform": [{"filter": "datum.p==4"}], "mark": {"type": "line", "interpolate": "cardinal-closed", "tension": 0.4, "color": "#000", "strokeWidth": 4, "strokeDash": [3.5, 2.5], "strokeCap": "butt"}, "encoding": {"x": {"field": "x", "type": "quantitative"}, "y": {"field": "y", "type": "quantitative"}, "detail": {"field": "g"}, "order": {"field": "i"}}},
 {"data": {"name": "pts"}, "transform": [{"filter": "datum.p==4 && datum.yr==2005"}], "mark": {"type": "point", "filled": false, "opacity": 1, "strokeWidth": 1.3},
  "encoding": {"x": {"field": "x", "type": "quantitative"}, "y": {"field": "y", "type": "quantitative"},
   "shape": {"field": "t", "type": "nominal", "scale": {"domain": ["Bt","NoBt","NoBt+I","B-No","B-Yes","S-No","S-Yes"], "range": ["circle","square","diamond","circle","square","diamond","triangle-up"]}, "legend": null},
   "stroke": {"field": "t", "type": "nominal", "scale": {"domain": ["Bt","NoBt","NoBt+I","B-No","B-Yes","S-No","S-Yes"], "range": ["#383838","#e0583e","#a8432e","#383838","#e0583e","#a8432e","#5a5cba"]}, "legend": null},
   "size": {"field": "t", "type": "nominal", "scale": {"domain": ["Bt","NoBt","NoBt+I","B-No","B-Yes","S-No","S-Yes"], "range": [40, 44, 75, 40, 44, 75, 55]}, "legend": null}}},
 {"data": {"name": "pts"}, "transform": [{"filter": "datum.p==4 && datum.yr==2006"}], "mark": {"type": "point", "filled": true, "opacity": 1},
  "encoding": {"x": {"field": "x", "type": "quantitative"}, "y": {"field": "y", "type": "quantitative"}, "shape": {"field": "t", "type": "nominal", "legend": null},
   "fill": {"field": "t", "type": "nominal", "scale": {"domain": ["Bt","NoBt","NoBt+I","B-No","B-Yes","S-No","S-Yes"], "range": ["#000000","#e8321e","#8a1b12","#000000","#e8321e","#8a1b12","#3a4db0"]}, "legend": null},
   "size": {"field": "t", "type": "nominal", "legend": null}}},
 {"data": {"name": "lb"}, "transform": [{"filter": "datum.p==4"}], "mark": {"type": "text", "font": "Liberation Sans", "fontWeight": "bold", "fontSize": 19, "color": "#000", "align": "center", "baseline": "middle"}, "encoding": {"x": {"field": "x", "type": "quantitative"}, "y": {"field": "y", "type": "quantitative"}, "text": {"field": "s"}}}
]
},
{
"width": 204, "height": 324,
"layer": [
 {"data": {"values": [{"a": 1}]}, "mark": {"type": "rect", "fill": "#fdfdfd"}, "encoding": {"x": {"datum": 0.1275, "type": "quantitative", "scale": {"domain": [0, 1], "nice": false, "zero": false}, "axis": null}, "x2": {"datum": 1}, "y": {"datum": -0.322, "type": "quantitative", "scale": {"domain": [0.751, 8.357], "reverse": true, "nice": false, "zero": false}, "axis": null}, "y2": {"datum": 8.357}}},
 {"data": {"values": [{"a": 1}]}, "mark": {"type": "rule", "stroke": "#777", "strokeWidth": 1.5}, "encoding": {"x": {"datum": 0.1275}, "y": {"datum": -0.322}, "y2": {"datum": 8.357}}},
 {"data": {"values": [{"a": 1}]}, "mark": {"type": "rule", "stroke": "#777", "strokeWidth": 1.5}, "encoding": {"x": {"datum": 0.1275}, "x2": {"datum": 1}, "y": {"datum": -0.322}}},
 {"data": {"values": [{"a": 1}]}, "mark": {"type": "text", "align": "center", "baseline": "middle", "font": "Liberation Sans", "fontWeight": "bold", "fontSize": 19, "color": "#111"}, "encoding": {"x": {"datum": 0.461}, "y": {"datum": 0.218}, "text": {"value": "Depth"}}},
 {"data": {"values": [{"a": 1}]}, "mark": {"type": "text", "align": "left", "baseline": "middle", "font": "Liberation Sans", "fontWeight": "bold", "fontSize": 19, "color": "#111"}, "encoding": {"x": {"datum": 0.657}, "y": {"datum": 0.218}, "text": {"value": "History"}}},
 {"data": {"name": "lg2"}, "transform": [{"filter": "datum.r<=7"}], "mark": {"type": "point", "filled": true, "opacity": 1},
  "encoding": {"x": {"datum": 0.206}, "y": {"field": "r", "type": "quantitative"},
   "shape": {"field": "r", "type": "nominal", "scale": {"domain": [1,2,3,4,5,6,7], "range": ["circle","square","diamond","triangle-up","triangle-right","triangle-left","triangle-down"]}, "legend": null},
   "fill": {"field": "r", "type": "nominal", "scale": {"domain": [1,2,3,4,5,6,7], "range": ["#000000","#e8321e","#5cb85c","#3b4cae","#f5a21f","#c45ab3","#7d3fa0"]}, "legend": null},
   "size": {"field": "r", "type": "nominal", "scale": {"domain": [1,2,3,4,5,6,7], "range": [100, 130, 60, 110, 110, 110, 110]}, "legend": null}}},
 {"data": {"name": "lg2"}, "transform": [{"filter": "datum.r==8"}], "mark": {"type": "point", "filled": false, "opacity": 1, "shape": "M-1,0H1M0,-1V1", "stroke": "#111", "strokeWidth": 1.4, "size": 120},
  "encoding": {"x": {"datum": 0.206}, "y": {"field": "r", "type": "quantitative"}}},
 {"data": {"name": "lg2"}, "mark": {"type": "text", "align": "center", "baseline": "middle", "font": "Liberation Sans", "fontWeight": "bold", "fontSize": 19, "color": "#111"}, "encoding": {"x": {"datum": 0.441}, "y": {"field": "r", "type": "quantitative"}, "text": {"field": "d"}}},
 {"data": {"name": "lg2"}, "mark": {"type": "text", "align": "left", "baseline": "middle", "font": "Liberation Sans", "fontWeight": "bold", "fontSize": 19, "color": "#111"}, "encoding": {"x": {"datum": 0.73}, "y": {"field": "r", "type": "quantitative"}, "text": {"field": "h"}}}
]
}
]
}
]
}
